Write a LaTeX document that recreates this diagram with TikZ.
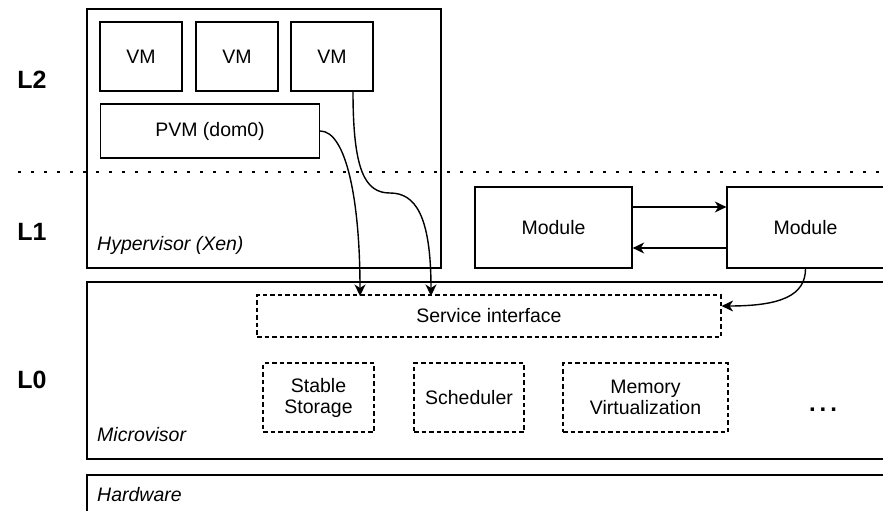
\documentclass[tikz,border=0pt]{standalone}
\usepackage{fontspec}
\setmainfont{Liberation Sans}
\usetikzlibrary{arrows.meta,calc}

\tikzset{
  box/.style={draw=black, line width=1.3pt, fill=white, inner sep=0pt,
              font=\fontsize{19.5}{21}\selectfont, align=center},
  dbox/.style={box, dash pattern=on 4.5pt off 3pt, line width=1.2pt},
  levellabel/.style={font=\fontsize{25}{28}\selectfont\bfseries},
  layerlabel/.style={font=\fontsize{19.5}{21}\selectfont\itshape, anchor=base west, inner sep=0pt},
  conn/.style={line width=1.4pt, -{Stealth[length=11.5pt,width=11pt,inset=3.5pt]}},
}

\begin{document}
\begin{tikzpicture}[x=1pt, y=-1pt]
\useasboundingbox (0,0) rectangle (883,511);
\clip (0,0) rectangle (883,511);

% layer containers
\node[box, minimum width=354pt, minimum height=259pt] (hyp) at (264,138.5) {};
\node[box, minimum width=803pt, minimum height=177pt] (micro) at (488.5,370.5) {};
\node[box, minimum width=803pt, minimum height=45pt] (hw) at (488.5,497.5) {};

% separator between L2 and L1
\draw[line width=2.8pt, dash pattern=on 2.8pt off 10.2pt] (18,172) -- (883,172);

% guests
\node[box, minimum width=82pt, minimum height=69pt] (vma) at (141,56.5) {VM};
\node[box, minimum width=82pt, minimum height=69pt] (vmb) at (237,56.5) {VM};
\node[box, minimum width=82pt, minimum height=69pt] (vmc) at (332,56.5) {VM};
\node[box, minimum width=219pt, minimum height=54pt] (pvm) at (210,131) {PVM (dom0)};

% L1 modules
\node[box, minimum width=157pt, minimum height=81pt] (moda) at (553.5,227.5) {Module};
\node[box, minimum width=157pt, minimum height=81pt] (modb) at (805.5,227.5) {Module};

% microvisor services
\node[dbox, minimum width=464pt, minimum height=42pt] (si) at (489,316) {Service interface};
\node[dbox, minimum width=111pt, minimum height=69pt] (ss) at (318.5,397.5) {Stable\\Storage};
\node[dbox, minimum width=110pt, minimum height=69pt] (sch) at (469,397.5) {Scheduler};
\node[dbox, minimum width=165pt, minimum height=69pt] (mem) at (645.5,397.5) {Memory\\Virtualization};
\node[font=\fontsize{24}{26}\selectfont\bfseries, anchor=base, inner sep=0pt] (more) at (823,411.5)
  {.\kern3.9pt.\kern3.9pt.};

% level and layer labels
\node[levellabel] (ltwo) at (32,80) {L2};
\node[levellabel] (lone) at (32,232) {L1};
\node[levellabel] (lzero) at (32,380) {L0};
\node[layerlabel] (hyplbl) at (97,250) {Hypervisor (Xen)};
\node[layerlabel] (microlbl) at (97,441) {Microvisor};
\node[layerlabel] (hwlbl) at (97,501) {Hardware};

% connector end points on the service interface
\coordinate (pvmin) at (360,296);
\coordinate (vmin) at (431,296);
\coordinate (vmbend) at (390,193);

% connectors
\draw[conn] (pvm.east) .. controls +(26,0) and +(0,-96) .. (pvmin);
\draw[conn] ([xshift=21pt]vmc.south) .. controls +(0,79) and +(-25,0) .. (vmbend)
            .. controls +(25,0) and +(0,-81) .. (vmin);
\draw[conn] ([yshift=20.5pt]moda.east) -- ([yshift=20.5pt]modb.west);
\draw[conn] ([yshift=-20.5pt]modb.west) -- ([yshift=-20.5pt]moda.east);
\draw[conn] (modb.south) .. controls +(0,27) and +(59,0) .. ([yshift=10pt]si.east);
\end{tikzpicture}
\end{document}
